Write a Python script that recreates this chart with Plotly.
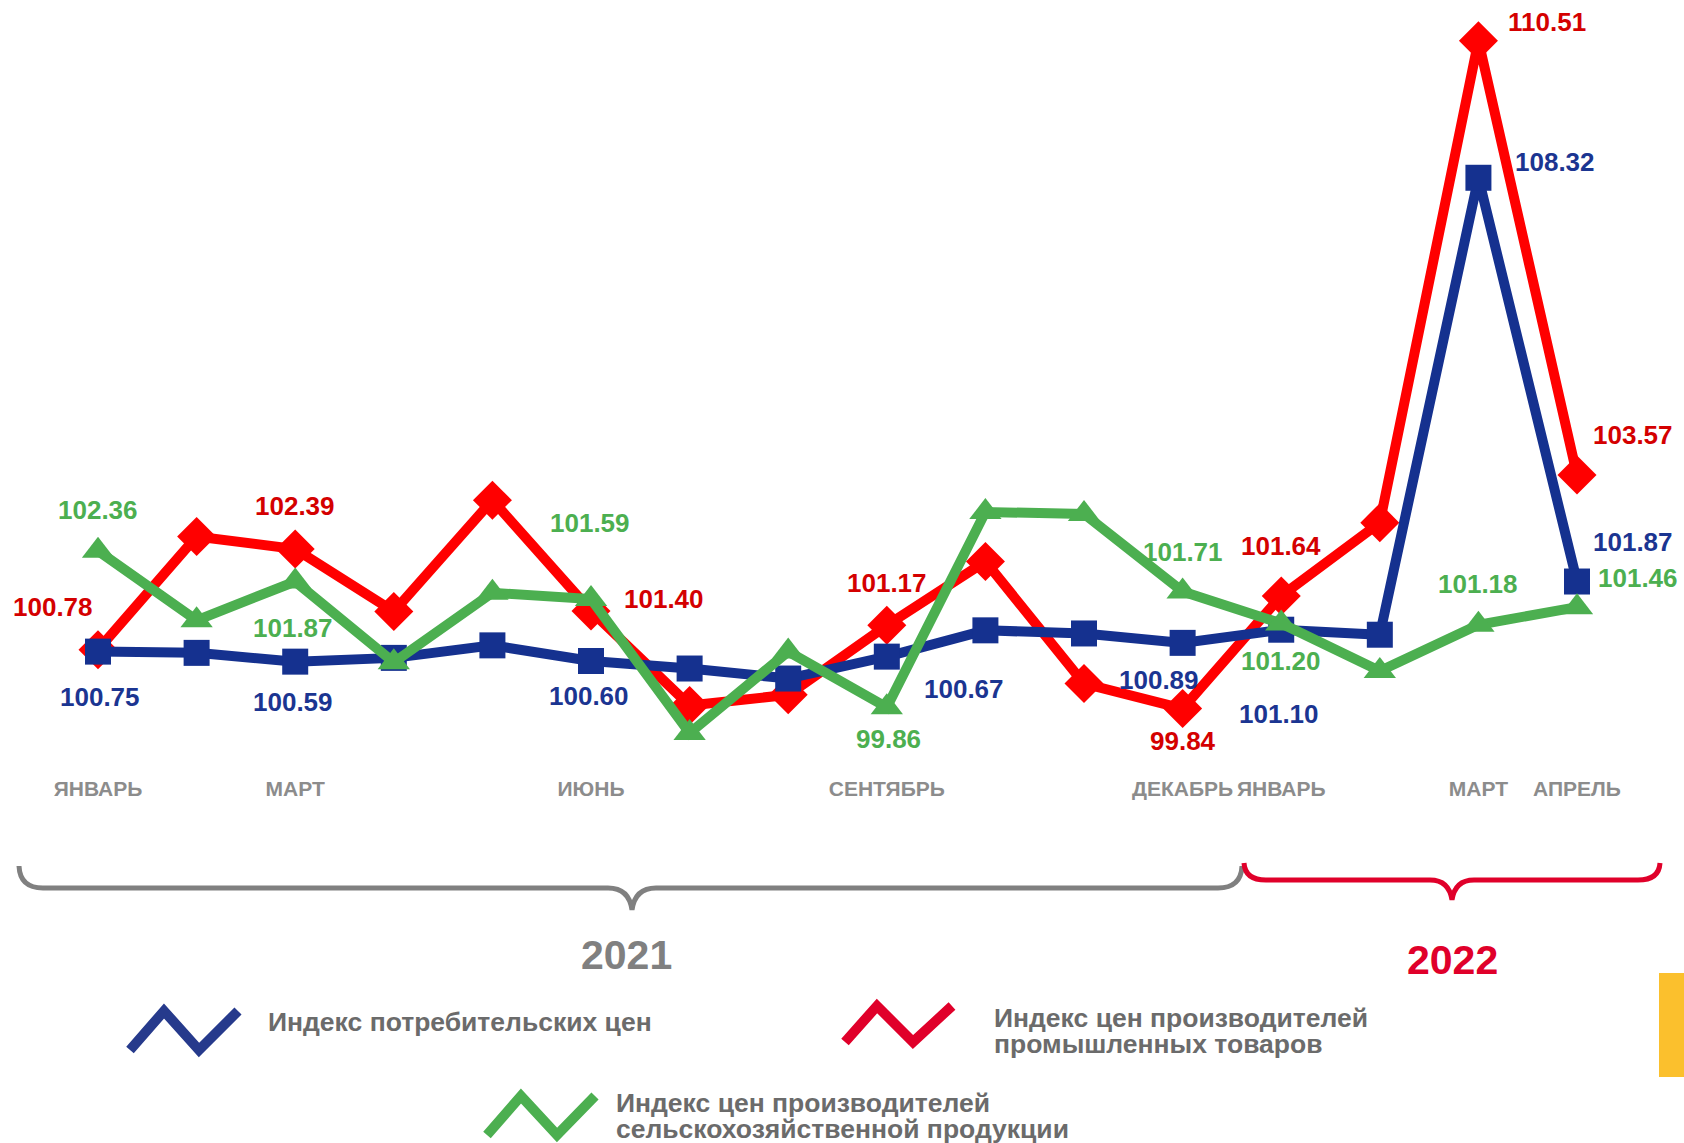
import plotly.graph_objects as go

W, H = 1684, 1143

months = list(range(16))
month_ticks = [0, 2, 5, 8, 11, 12, 14, 15]
month_labels = ["ЯНВАРЬ", "МАРТ", "ИЮНЬ", "СЕНТЯБРЬ", "ДЕКАБРЬ", "ЯНВАРЬ", "МАРТ", "АПРЕЛЬ"]

# Jan 2021 .. Apr 2022
cpi = [100.75, 100.73, 100.59, 100.65, 100.85, 100.60, 100.48, 100.32,
       100.67, 101.09, 101.04, 100.89, 101.10, 101.02, 108.32, 101.87]
ppi_industry = [100.78, 102.59, 102.39, 101.39, 103.17, 101.40, 99.89, 100.06,
                101.17, 102.19, 100.24, 99.84, 101.64, 102.81, 110.51, 103.57]
ppi_agri = [102.36, 101.25, 101.87, 100.58, 101.69, 101.59, 99.45, 100.75,
            99.86, 102.98, 102.95, 101.71, 101.20, 100.44, 101.18, 101.46]

years = ["2021", "2022"]
legend_names = [
    ["Индекс потребительских цен"],
    ["Индекс цен производителей", "промышленных товаров"],
    ["Индекс цен производителей", "сельскохозяйственной продукции"],
]

FONT = "Liberation Sans, Arial, sans-serif"
RED, BLUE, GREEN = "#FF0000", "#15318F", "#4CAF50"
RED_TXT, BLUE_TXT, GREEN_TXT = "#D40000", "#1B3591", "#4CAF50"

# value label placement: index -> (dx, dy) in px, dy positive = down
red_labels = {0: (-45, -43), 2: (0, -43), 5: (73, -12), 8: (0, -42),
              11: (0, 32), 12: (0, -50), 14: (69, -19), 15: (56, -40)}
blue_labels = {0: (2, 45), 2: (-2, 40), 5: (-2, 35), 8: (77, 32),
               11: (-24, 37), 12: (-2, 84), 14: (77, -16), 15: (56, -40)}
green_labels = {0: (0, -41), 2: (-2, 46), 5: (-1, -76), 8: (2, 32),
                11: (0, -40), 12: (0, 38), 14: (0, -41), 15: (61, -29)}


def px(x, y):
    """Pixel position to paper coordinates."""
    return x / W, 1 - y / H


def pt(p):
    return f"{p[0] / W:.5f},{1 - p[1] / H:.5f}"


fig = go.Figure()

for values, color, symbol, size in [
    (ppi_industry, RED, "diamond", 30),
    (cpi, BLUE, "square", 26),
    (ppi_agri, GREEN, "triangle-up", 28),
]:
    fig.add_trace(go.Scatter(
        x=months, y=values, mode="lines+markers",
        line=dict(color=color, width=10),
        marker=dict(symbol=symbol, size=size, color=color),
        showlegend=False, hoverinfo="skip",
    ))

annotations = []
for values, labels, color in [
    (ppi_industry, red_labels, RED_TXT),
    (cpi, blue_labels, BLUE_TXT),
    (ppi_agri, green_labels, GREEN_TXT),
]:
    for i, (dx, dy) in labels.items():
        annotations.append(dict(
            x=i, y=values[i], xref="x", yref="y", text=f"{values[i]:.2f}",
            showarrow=False, xshift=dx, yshift=-dy,
            xanchor="center", yanchor="middle",
            font=dict(family=FONT, size=26, color=color, weight="bold"),
        ))

# years under braces
for text, xpix, ypix, color in [(years[0], 626, 955, "#808080"), (years[1], 1452, 960, "#E0002A")]:
    x, y = px(xpix, ypix)
    annotations.append(dict(x=x, y=y, xref="paper", yref="paper", text=text,
                            showarrow=False, xanchor="center", yanchor="middle",
                            font=dict(family=FONT, size=41, color=color, weight="bold")))

# legend texts, one annotation per line for tight line spacing
for lines, xpix, ypix in [(legend_names[0], 266, 1022), (legend_names[1], 992, 1018),
                          (legend_names[2], 614, 1103)]:
    for k, line in enumerate(lines):
        x, y = px(xpix, ypix + 26 * k)
        annotations.append(dict(x=x, y=y, xref="paper", yref="paper", text=line,
                                showarrow=False, xanchor="left", yanchor="middle",
                                font=dict(family=FONT, size=26.5, color="#6B6B6B",
                                          weight="bold")))

shapes = []


def brace(x0, x1, xm, ytop, ymid, ytip, r=24):
    return (f"M {pt((x0, ytop))} Q {pt((x0 + 1, ymid))} {pt((x0 + r, ymid))} "
            f"L {pt((xm - r, ymid))} Q {pt((xm - 3, ymid))} {pt((xm, ytip))} "
            f"Q {pt((xm + 3, ymid))} {pt((xm + r, ymid))} "
            f"L {pt((x1 - r, ymid))} Q {pt((x1 - 1, ymid))} {pt((x1, ytop))}")


shapes.append(dict(type="path", xref="paper", yref="paper",
                   path=brace(19, 1242, 632, 866, 888, 910),
                   line=dict(color="#808080", width=5)))
shapes.append(dict(type="path", xref="paper", yref="paper",
                   path=brace(1244, 1660, 1452, 863, 880, 900, r=22),
                   line=dict(color="#E0002A", width=5)))

# legend zigzag icons
for pts, color in [
    ([(130, 1050), (164, 1011), (199, 1050), (238, 1011)], "#263A8C"),
    ([(845, 1042), (877, 1006), (913, 1042), (952, 1006)], "#E0002A"),
    ([(487, 1135), (521, 1096), (557, 1135), (595, 1096)], GREEN),
]:
    path = "M " + pt(pts[0]) + "".join(" L " + pt(p) for p in pts[1:])
    shapes.append(dict(type="path", xref="paper", yref="paper", path=path,
                       line=dict(color=color, width=10)))

# yellow tab at right edge
x0, y0 = px(1659, 973)
x1, y1 = px(1684, 1077)
shapes.append(dict(type="rect", xref="paper", yref="paper", x0=x0, y0=y1, x1=x1, y1=y0,
                   fillcolor="#FBC02D", line=dict(width=0)))

fig.update_layout(
    width=W, height=H,
    margin=dict(l=0, r=0, t=0, b=0),
    paper_bgcolor="white", plot_bgcolor="white",
    annotations=annotations, shapes=shapes,
    font=dict(family=FONT),
)
fig.update_xaxes(
    range=[-0.994, 16.085], showgrid=False, zeroline=False, showline=False,
    tickvals=month_ticks, ticktext=month_labels, ticks="",
    tickfont=dict(family=FONT, size=21, color="#8C8C8C", weight="bold"),
    anchor="free", position=px(0, 774)[1],
)
fig.update_yaxes(range=[92.90, 111.16], visible=False)

fig.write_html(
    "out.html",
    config={"displayModeBar": False},
    post_script="document.body.style.margin='0';document.body.style.overflow='hidden';",
)
